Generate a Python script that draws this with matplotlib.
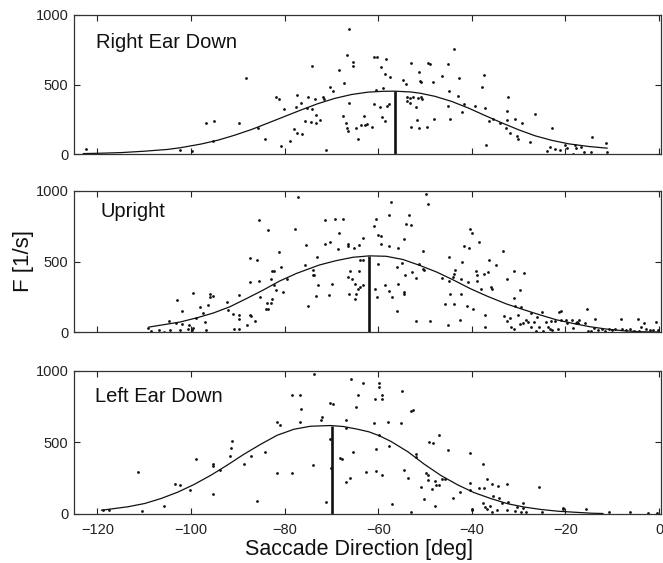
import matplotlib
matplotlib.use("Agg")
import matplotlib.pyplot as plt

plt.rcParams['font.family'] = ['Liberation Sans', 'DejaVu Sans']

# ---------------- data ----------------
panel_titles = ["Right Ear Down", "Upright", "Left Ear Down"]
x_ticks = [-120, -100, -80, -60, -40, -20, 0]
y_ticks = [0, 500, 1000]
x_label = "Saccade Direction [deg]"
y_label = "F [1/s]"

# Right Ear Down
red_pts_x = [-122.5, -102.3, -99.7, -96.8, -95.0, -89.8, -95.2, -88.3, -85.7, -84.1,
             -81.9, -81.2, -80.1, -80.7, -78.9, -78.1, -77.4, -76.2, -77.5, -76.6,
             -77.4, -75.1, -75.2, -74.1, -73.6, -74.1, -75.6, -74.3, -73.2, -72.4,
             -73.4, -71.8, -71.6, -70.3, -69.6, -68.3, -67.4, -66.2, -66.7, -65.4,
             -65.5, -66.2, -67.5, -66.9, -66.7, -66.4, -64.8, -63.0, -63.7, -62.9,
             -62.3, -61.4, -64.3, -71.2, -60.9, -60.2, -58.4, -59.5, -58.5, -57.4,
             -60.4, -58.9, -60.9, -59.7, -58.2, -57.6, -59.3, -58.6, -53.0, -51.3,
             -49.3, -49.0, -54.1, -54.7, -51.0, -50.8, -53.9, -53.2, -52.6, -51.6,
             -50.9, -50.6, -53.8, -53.3, -52.0, -53.0, -51.4, -51.8, -49.5,
             -48.4, -48.0, -46.4, -45.0, -43.9, -44.9, -42.7, -44.7, -45.2, -43.0,
             -42.1, -41.7, -39.4, -37.8, -37.5, -37.1, -36.4, -35.4, -36.9, -33.9,
             -32.6, -32.3, -32.4, -32.8, -31.9, -30.4, -30.2, -30.7, -29.2, -27.6,
             -26.5, -22.9, -23.9, -23.4, -22.3, -21.1, -20.2, -19.6, -17.9, -17.7,
             -16.7, -16.1, -14.5, -14.3, -11.3, -11.1, -18.4]
red_pts_y = [35, 31, 24, 225, 240, 225, 94, 550, 185, 105,
             412, 393, 326, 58, 96, 182, 149, 144, 336, 369,
             427, 408, 329, 635, 393, 326, 237, 230, 221, 245,
             283, 408, 396, 484, 451, 604, 508, 900, 712, 659,
             633, 364, 273, 221, 185, 165, 185, 273, 209, 209,
             213, 192, 110, 31, 695, 700, 681, 623, 576, 551,
             460, 475, 360, 336, 348, 357, 268, 235, 652, 590,
             657, 650, 504, 532, 527, 520, 408, 405, 408, 400,
             408, 393, 384, 369, 336, 192, 185, 245, 192,
             520, 254, 561, 645, 755, 456, 544, 249, 345, 417,
             305, 357, 345, 480, 568, 328, 240, 254, 65, 225,
             245, 408, 309, 185, 153, 129, 105, 254, 221, 86,
             285, 185, 24, 53, 38, 29, 67, 43, 67, 46,
             53, 14, 14, 120, 82, 14, 3]
red_fit_x = [-123, -120, -115, -110, -105, -102.3, -97.8, -94.2, -90.7, -87.1,
             -83.6, -80, -76.4, -72.9, -69.3, -65.7, -62.2, -59, -56.4, -53,
             -51, -47.9, -44.3, -40.7, -37.2, -33.6, -30, -26.5, -22.9, -19.3,
             -15, -11.1]
red_fit_y = [3, 5, 10, 20, 33, 45, 72, 100, 135, 176,
             222, 270, 318, 362, 400, 428, 445, 451, 452, 446,
             437, 415, 378, 330, 277, 224, 174, 131, 98, 73,
             54, 42]
red_peak = (-56.4, 452)

# Upright
up_pts_x = [-77.2, -85.5, -83.6, -77.7, -71.3, -75.5, -71.3, -81.3, -87.4, -85.8,
            -73.1, -75.6, -80.8, -82.8, -82.2, -74.0, -74.0, -73.7, -82.9, -79.6,
            -85.5, -87.4, -82.2, -72.9, -81.8, -80.3, -70.6, -73.4, -85.3, -82.8,
            -83.8, -82.9, -75.1, -84.0, -83.6, -89.7, -91.0, -89.8, -89.8, -90.9,
            -89.8, -88.0, -87.5, -87.1, -86.3, -99.6, -95.9, -96.0, -95.2, -96.3,
            -98.1, -97.5, -103.0, -102.0, -92.4, -92.1, -98.9, -97.0, -104.7, -103.3,
            -101.9, -100.5, -100.6, -99.7, -99.5, -96.7, -102.4, -104.5, -106.9, -109.2,
            -108.5, -105.8,
            -69.3, -67.5, -68.3, -70.3, -68.5, -66.5, -66.4, -65.2, -64.1, -63.2,
            -60.9, -60.5, -60.1, -59.5, -59.5, -57.7, -55.8, -57.6, -57.3, -54.1,
            -53.1, -53.4, -49.8, -49.4, -54.6, -50.5, -63.9, -63.3, -60.1, -55.9,
            -55.0, -51.4, -50.4, -50.3, -54.3, -52.8, -52.0, -66.0, -66.4, -65.7,
            -64.2, -64.9, -64.4, -63.9, -63.2, -69.8, -66.2, -64.8, -64.9, -60.6,
            -58.6, -57.7, -57.0, -55.7, -54.6, -54.5, -56.1, -60.3, -52.0, -49.0,
            -46.4, -45.7, -45.0, -44.9, -44.9, -44.7, -43.9, -44.1, -43.7, -43.8,
            -42.3, -42.6, -42.4, -42.1, -41.6, -40.7, -40.5, -40.0, -38.5, -41.0,
            -40.9, -39.7, -39.2, -39.0, -38.8, -38.1, -37.5, -36.6, -36.4, -34.8,
            -36.0, -35.7, -37.2, -37.1,
            -33.3, -30.9, -28.9, -32.4, -29.7, -31.0, -30.8, -29.6, -33.2, -32.4,
            -31.8, -31.6, -31.0, -30.2, -29.7, -29.1, -28.5, -28.0, -27.4, -27.4,
            -26.8, -26.4, -26.1, -25.6, -25.0, -24.9, -24.1, -23.8, -23.4, -23.1,
            -22.8, -22.3, -21.6, -21.3, -20.9, -21.0, -19.9, -19.6, -18.6, -18.4,
            -17.8, -17.5, -17.3, -17.1, -15.9, -15.4, -15.1, -14.6, -13.9, -13.6,
            -13.1, -12.3, -11.5, -10.7, -10.1, -9.4, -8.1, -7.9, -7.1, -6.3,
            -5.4, -4.6, -4.3, -3.8, -3.3, -2.7, -2.0, -1.4, -0.6, -0.3]
up_pts_y = [960, 796, 720, 734, 796, 616, 621, 566, 522, 510,
            533, 472, 460, 434, 434, 439, 401, 401, 378, 378,
            363, 354, 335, 335, 297, 283, 260, 255, 250, 231,
            208, 203, 184, 165, 165, 260, 127, 118, 90, 24,
            24, 52, 118, 111, 76, 276, 271, 248, 255, 194,
            179, 137, 224, 146, 215, 156, 99, 71, 76, 61,
            57, 47, 19, 17, 28, 14, 14, 14, 14, 26,
            5, 3,
            800, 800, 701, 635, 588, 623, 612, 595, 618, 666,
            753, 800, 689, 684, 623, 611, 597, 831, 925, 767,
            760, 831, 979, 909, 661, 576, 514, 514, 484, 460,
            491, 484, 446, 439, 406, 425, 382, 430, 387, 373,
            432, 340, 307, 319, 330, 340, 269, 267, 236, 304,
            330, 290, 245, 342, 283, 271, 146, 245, 80, 78,
            380, 201, 52, 529, 361, 271, 198, 387, 441, 413,
            375, 87, 269, 500, 607, 595, 729, 701, 637, 184,
            354, 165, 430, 401, 359, 307, 413, 425, 512, 472,
            316, 307, 123, 35,
            576, 430, 415, 373, 300, 241, 184, 175, 116, 76,
            99, 35, 19, 123, 57, 66, 85, 68, 137, 35,
            71, 9, 106, 35, 142, 9, 73, 33, 19, 78,
            17, 76, 19, 139, 151, 83, 87, 66, 83, 28,
            66, 73, 61, 87, 64, 163, 7, 7, 28, 94,
            14, 19, 7, 19, 12, 19, 94, 19, 12, 19,
            7, 94, 7, 35, 66, 19, 12, 12, 71, 12]
up_fit_x = [-109, -105.8, -102.3, -98.7, -95.2, -91.7, -88.1, -84.6, -81.1, -77.5,
            -74.0, -72.6, -70.4, -69.0, -65.4, -61.9, -58.3, -54.7, -51.1, -47.5,
            -43.9, -40.3, -36.8, -32.7, -29.1, -25.6, -22.0, -18.4, -14.9, -11.3,
            -7.7, -4.1, 0]
up_fit_y = [35, 52, 71, 101, 135, 179, 238, 297, 361, 415,
            458, 475, 494, 506, 530, 540, 537, 514, 472, 425,
            368, 307, 255, 200, 160, 123, 87, 61, 38, 21,
            9, 2, 0]
up_peak = (-61.9, 540)

# Left Ear Down
led_pts_x = [-73.8, -65.8, -63.2, -64.3, -64.7, -78.5, -76.7, -76.4, -70.4, -69.7,
             -72.0, -72.3, -66.9, -81.6, -80.9, -76.8, -70.4, -70.1, -65.3, -62.7,
             -68.1, -67.8, -66.1, -66.8, -73.9, -78.5, -81.7, -71.2, -84.3, -87.1,
             -88.7, -91.3, -91.5, -91.7, -93.8, -95.4, -95.3, -98.9, -100.3, -103.5,
             -102.3, -95.4, -85.9, -111.3, -105.7, -110.5, -118.7, -117.6, -66.8,
             -59.9, -59.8, -59.3, -59.3, -60.7, -54.9, -52.9, -52.6, -61.0, -57.9,
             -55.2, -59.8, -60.5, -57.8, -47.1, -49.2, -48.2, -52.0, -51.9, -45.0,
             -40.4, -60.5, -59.1, -54.4, -53.7, -49.8, -49.4, -49.4, -47.9, -47.6,
             -47.1, -48.5, -46.4, -45.8, -50.9, -50.2, -47.9, -44.0, -42.5, -40.5,
             -40.4, -38.4, -37.5, -37.6, -36.8, -35.7, -34.4, -32.4, -35.4, -34.1,
             -37.7, -37.3, -36.7, -36.1, -35.6, -34.6, -33.6, -32.2, -32.5, -30.3,
             -30.7, -29.6, -29.1, -29.0, -28.4, -25.7, -25.0, -40.0, -40.0, -53.0,
             -57.1, -20.5, -20.6, -15.6, -10.8, -6.3, -2.4, -0.4]
led_pts_y = [977, 944, 916, 829, 747, 831, 831, 731, 773, 768,
             679, 656, 658, 644, 623, 644, 522, 321, 433, 293,
             391, 380, 251, 222, 340, 283, 281, 80, 433, 400,
             344, 506, 457, 403, 307, 349, 335, 384, 164, 204,
             197, 138, 91, 293, 56, 21, 23, 23, 597,
             915, 887, 833, 800, 800, 859, 715, 722, 633, 638,
             635, 548, 454, 473, 548, 504, 492, 419, 393, 447,
             421, 296, 271, 308, 249, 287, 273, 238, 226, 198,
             198, 174, 240, 245, 186, 104, 56, 106, 151, 212,
             165, 176, 181, 346, 242, 209, 195, 205, 122, 106,
             71, 47, 35, 56, 14, 28, 71, 82, 28, 47,
             16, 9, 75, 40, 9, 188, 9, 35, 22, 9,
             68, 40, 35, 31, 12, 14, 2, 5]
led_fit_x = [-119.1, -113.5, -109.9, -106.4, -102.8, -99.3, -95.7, -92.2, -88.7, -85.1,
             -81.6, -78.0, -74.5, -70.2, -67.4, -64.4, -62.0, -59.8, -57.3, -53.7,
             -50.2, -46.6, -43.0, -39.5, -35.9, -32.3, -28.8, -25.2, -21.6, -18.1,
             -14.5, -12.0]
led_fit_y = [23, 47, 70, 105, 150, 204, 269, 340, 415, 485,
             548, 590, 611, 616, 609, 590, 572, 545, 505, 433,
             346, 266, 200, 146, 104, 68, 45, 28, 16, 9,
             2, 0]
led_peak = (-69.9, 616)

panels = [
    (red_pts_x, red_pts_y, red_fit_x, red_fit_y, red_peak),
    (up_pts_x, up_pts_y, up_fit_x, up_fit_y, up_peak),
    (led_pts_x, led_pts_y, led_fit_x, led_fit_y, led_peak),
]

# ---------------- layout ----------------
W, H = 663, 563
fig = plt.figure(figsize=(W / 100, H / 100), dpi=100)

left_px, right_px = 74, 660.5
boxes = [(15, 154), (191, 332), (370.7, 513.5)]   # top, bottom in pixels
label_base = [48, 217, 401.7]                      # baseline pixel of panel title
label_left = [96, 101, 95]

for i, ((top, bot), (px, py, fx, fy, pk)) in enumerate(zip(boxes, panels)):
    ax = fig.add_axes([left_px / W, 1 - bot / H, (right_px - left_px) / W, (bot - top) / H])
    ax.plot(px, py, linestyle='none', marker='o', markersize=2.0,
            markeredgewidth=0, color='#111111')
    ax.plot(fx, fy, color='#111111', linewidth=0.9)
    ax.vlines(pk[0], 0, pk[1], color='#111111', linewidth=1.9)
    ax.set_xlim(-125.0, 0.3)
    ax.set_ylim(0, 1000)
    ax.set_xticks(x_ticks)
    ax.set_yticks(y_ticks)
    ax.tick_params(direction='in', length=4, width=0.8, top=True, right=True,
                   labelsize=10.5, colors='#222222')
    ax.tick_params(axis='x', pad=7)
    ax.tick_params(axis='y', pad=4)
    if i < 2:
        ax.tick_params(labelbottom=False)
    for sp in ax.spines.values():
        sp.set_linewidth(0.9)
        sp.set_color('#333333')
    tx = (label_left[i] - left_px) / (right_px - left_px)
    ty = (bot - label_base[i]) / (bot - top)
    ax.text(tx, ty, panel_titles[i], transform=ax.transAxes, fontsize=14.5,
            ha='left', va='baseline', color='#111111')

fig.text(245 / W, 1 - 555 / H, x_label, ha='left', va='baseline', fontsize=15.5,
         color='#111111')
fig.text(23 / W, 1 - 261 / H, y_label, ha='center', va='center', fontsize=16,
         rotation=90, color='#111111')

fig.savefig("out.png", dpi=100)
